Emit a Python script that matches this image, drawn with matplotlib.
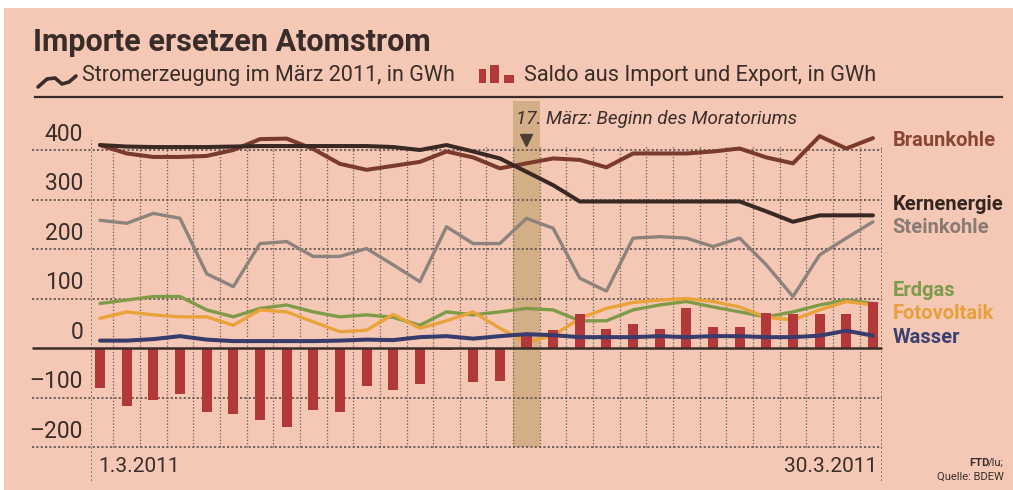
import numpy as np
import matplotlib
matplotlib.use("Agg")
import matplotlib.pyplot as plt
from matplotlib.lines import Line2D
from matplotlib.patches import Rectangle

# Tageswerte März 2011 (GWh)
tage = np.arange(1, 31)
braunkohle = [410, 393, 386, 386, 388, 400, 422, 423, 402, 372, 360, 368, 376, 397, 385,
              363, 373, 383, 380, 365, 393, 393, 393, 397, 403, 385, 373, 428, 403, 424]
kernenergie = [410, 407, 406, 406, 406, 407, 408, 408, 408, 408, 408, 406, 400, 410, 397,
               383, 356, 329, 296, 296, 296, 296, 296, 296, 296, 276, 255, 268, 268, 268]
steinkohle = [258, 252, 272, 262, 150, 124, 211, 215, 185, 185, 201, 168, 134, 245, 211,
              211, 262, 242, 141, 115, 222, 225, 222, 205, 222, 168, 104, 188, 222, 255]
erdgas = [90, 97, 104, 104, 77, 63, 80, 87, 73, 63, 67, 62, 46, 73, 67,
          73, 80, 77, 55, 55, 77, 87, 94, 83, 73, 63, 73, 87, 97, 90]
fotovoltaik = [60, 73, 67, 63, 63, 46, 77, 73, 53, 33, 36, 68, 40, 55, 73,
               40, 12, 25, 60, 80, 92, 97, 100, 94, 83, 62, 57, 77, 94, 87]
wasser = [15, 15, 18, 24, 17, 14, 14, 14, 14, 15, 17, 16, 22, 24, 19,
          24, 28, 26, 22, 22, 22, 24, 22, 24, 24, 22, 22, 25, 35, 25]
saldo = [-81, -118, -105, -92, -129, -133, -145, -159, -126, -130, -77, -85, -73, -3, -68,
         -66, 25, 36, 68, 39, 48, 38, 80, 43, 43, 70, 68, 68, 68, 92]

yticks = [400, 300, 200, 100, 0, -100, -200]
ytick_labels = ["400", "300", "200", "100", "0", "\u2013100", "\u2013200"]
moratorium_tag = 17

serien = [
    ("Braunkohle", braunkohle, "#7a3a2c", "#8a4535", 420),
    ("Kernenergie", kernenergie, "#3a2822", "#33241f", 290),
    ("Steinkohle", steinkohle, "#8e837c", "#877b74", 243),
    ("Erdgas", erdgas, "#7f9b47", "#7e9a4c", 117),
    ("Fotovoltaik", fotovoltaik, "#eaa23a", "#e6a03c", 69),
    ("Wasser", wasser, "#373c6c", "#3b4072", 22),
]

BG = "#f4c8b4"
TXT = "#3a2d29"
GRID = "#6a5a52"
BAR = "#b3383a"
FONT = ["Roboto", "DejaVu Sans"]
plt.rcParams["font.family"] = FONT

W, H = 1013, 490
fig = plt.figure(figsize=(W / 100, H / 100), dpi=100, facecolor="white")


def fx(x):
    return x / W


def fy(y):
    return 1 - y / H


fig.add_artist(Rectangle((fx(4), 0), 1 - fx(4), fy(8), transform=fig.transFigure,
                         facecolor=BG, edgecolor="none", zorder=-10))

# axes: x 91..882 px, y 100.5..481.7 px
ax = fig.add_axes([fx(91), fy(481.7), fx(882) - fx(91), fy(100.5) - fy(481.7)])
ax.set_xlim(0.66, 30.34)
ax.set_ylim(-270, 500)
ax.patch.set_visible(False)
for s in ax.spines.values():
    s.set_visible(False)
ax.set_xticks([])
ax.set_yticks([])

# Moratorium band
ax.axvspan(moratorium_tag - 0.5, moratorium_tag + 0.5, ymin=(-200 + 270) / 770, ymax=1,
           facecolor="#d3ae86", edgecolor="none", zorder=0.5)

# gridlines
for v in yticks:
    if v == 0:
        continue
    ax.hlines(v, -1.55, 30.34, colors=GRID, linestyles=(0, (1.2, 1.2)), lw=1.3,
              clip_on=False, zorder=1)
for k in range(1, 30):
    ax.vlines(k + 0.5, -200, 410, colors=GRID, linestyles=(0, (1, 1.6)), lw=0.9, zorder=1)
ax.vlines(0.66, -268, 420, colors=GRID, linestyles=(0, (1, 1.4)), lw=1.2, zorder=1)
ax.vlines(30.34, -268, 410, colors=GRID, linestyles=(0, (1, 1.4)), lw=1.2, zorder=1)
ax.hlines(0, -1.55, 30.34, colors="#3a2d29", lw=1.8, clip_on=False, zorder=3.5)

for v, lab in zip(yticks, ytick_labels):
    ax.text(0.36, v + 32, lab, ha="right", va="center", fontsize=16.5, color=TXT,
            clip_on=False)

# bars
ax.bar(tage, saldo, width=0.38, color=BAR, zorder=3)

# lines
for name, werte, farbe, lfarbe, ly in serien:
    lw = 2.9 if name in ("Braunkohle", "Kernenergie") else 2.4
    if name == "Wasser":
        lw = 2.9
    z = 2.5 if name in ("Erdgas", "Fotovoltaik") else 4
    ax.plot(tage, werte, color=farbe, lw=lw, solid_joinstyle="round",
            solid_capstyle="round", zorder=z)
    ax.text(30.74, ly, name, ha="left", va="center", fontsize=14.5, fontweight="bold",
            color=lfarbe, clip_on=False)

# annotation
ax.plot([moratorium_tag], [420], marker="v", markersize=9, color="#4a3b33",
        linestyle="none", zorder=5, clip_on=False)
ax.text(moratorium_tag - 0.38, 463, "17. März: Beginn des Moratoriums", ha="left",
        va="center", fontsize=13.6, style="italic", color=TXT, clip_on=False)

ax.text(0.95, -240, "1.3.2011", ha="left", va="center", fontsize=15, color=TXT)
ax.text(30.15, -240, "30.3.2011", ha="right", va="center", fontsize=15, color=TXT)

# header
fig.text(fx(33), fy(42), "Importe ersetzen Atomstrom", ha="left", va="center",
         fontsize=22, fontweight="bold", color=TXT)
fig.add_artist(Line2D([fx(38), fx(47), fx(55), fx(62), fx(69), fx(76)],
                      [fy(87), fy(79), fy(78), fy(84), fy(82), fy(76)],
                      transform=fig.transFigure, color=TXT, lw=2.6,
                      solid_joinstyle="round", solid_capstyle="round"))
fig.text(fx(82), fy(76), "Stromerzeugung im März 2011, in GWh", ha="left", va="center",
         fontsize=15.5, color=TXT)
for x0, x1, ytop in [(479, 486, 69), (490, 499, 65), (504, 514, 75)]:
    fig.add_artist(Rectangle((fx(x0), fy(83)), fx(x1) - fx(x0), fy(ytop) - fy(83),
                             transform=fig.transFigure, facecolor=BAR, edgecolor="none"))
fig.text(fx(524), fy(76), "Saldo aus Import und Export, in GWh", ha="left", va="center",
         fontsize=15.7, color=TXT)
fig.add_artist(Line2D([fx(35), fx(1002)], [fy(97), fy(97)], transform=fig.transFigure,
                      color=TXT, lw=1.6))

# source
fig.text(fx(1004), fy(463), "/lu;", ha="right", va="center", fontsize=8, color=TXT)
fig.text(fx(989.5), fy(463), "FTD", ha="right", va="center", fontsize=8,
         fontweight="bold", color=TXT)
fig.text(fx(1004), fy(477), "Quelle: BDEW", ha="right", va="center", fontsize=8,
         color=TXT)

fig.savefig("out.png", dpi=100, facecolor=fig.get_facecolor())
